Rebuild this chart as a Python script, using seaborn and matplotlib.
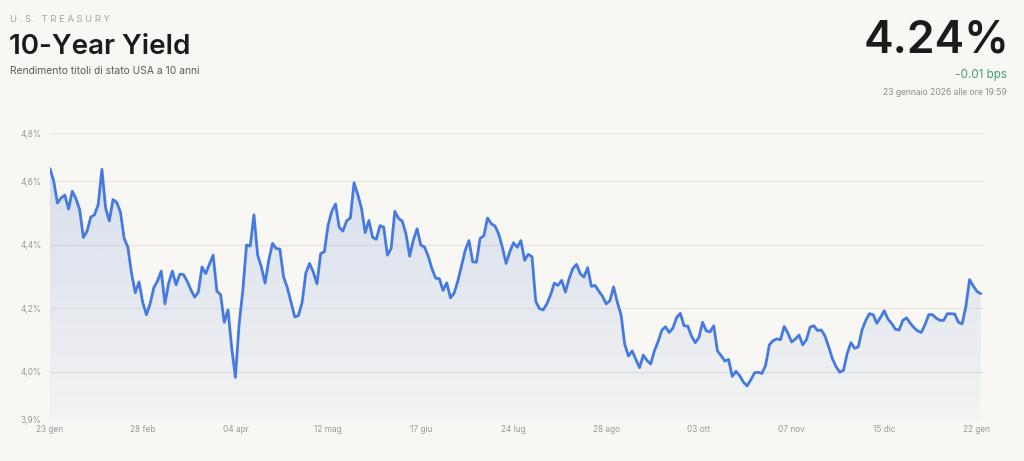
import numpy as np
import pandas as pd
import matplotlib
matplotlib.use("Agg")
import matplotlib.pyplot as plt
import seaborn as sns
from matplotlib.colors import to_rgba

# ---- data, one value per trading day ----
yields = [
    4.639, 4.600, 4.531, 4.547, 4.556, 4.512, 4.568, 4.545, 4.510, 4.423,
    4.443, 4.487, 4.494, 4.526, 4.637, 4.515, 4.475, 4.542, 4.533, 4.502,
    4.420, 4.392, 4.309, 4.249, 4.283, 4.219, 4.180, 4.214, 4.265, 4.286,
    4.317, 4.214, 4.279, 4.317, 4.274, 4.307, 4.306, 4.285, 4.258, 4.235,
    4.251, 4.330, 4.309, 4.339, 4.367, 4.254, 4.243, 4.156, 4.195, 4.076,
    3.983, 4.150, 4.256, 4.399, 4.396, 4.494, 4.367, 4.330, 4.279, 4.351,
    4.404, 4.388, 4.386, 4.298, 4.265, 4.219, 4.173, 4.177, 4.219, 4.311,
    4.341, 4.314, 4.277, 4.372, 4.378, 4.462, 4.505, 4.528, 4.455, 4.443,
    4.475, 4.484, 4.595, 4.558, 4.515, 4.438, 4.476, 4.423, 4.417, 4.460,
    4.455, 4.367, 4.388, 4.505, 4.483, 4.474, 4.434, 4.364, 4.415, 4.450,
    4.399, 4.393, 4.364, 4.325, 4.295, 4.293, 4.256, 4.280, 4.233, 4.248,
    4.286, 4.335, 4.383, 4.413, 4.346, 4.345, 4.420, 4.428, 4.484, 4.466,
    4.459, 4.434, 4.392, 4.341, 4.378, 4.406, 4.392, 4.413, 4.351, 4.370,
    4.362, 4.222, 4.199, 4.195, 4.214, 4.242, 4.279, 4.272, 4.288, 4.251,
    4.293, 4.325, 4.338, 4.309, 4.298, 4.328, 4.269, 4.272, 4.254, 4.238,
    4.214, 4.224, 4.267, 4.219, 4.180, 4.087, 4.050, 4.066, 4.039, 4.013,
    4.053, 4.036, 4.025, 4.066, 4.095, 4.131, 4.142, 4.124, 4.138, 4.171,
    4.184, 4.145, 4.144, 4.113, 4.092, 4.108, 4.156, 4.129, 4.126, 4.145,
    4.066, 4.051, 4.034, 4.039, 3.986, 4.002, 3.988, 3.968, 3.956, 3.975,
    3.997, 3.999, 3.995, 4.021, 4.085, 4.098, 4.104, 4.101, 4.143, 4.122,
    4.094, 4.103, 4.116, 4.085, 4.101, 4.141, 4.145, 4.130, 4.132, 4.113,
    4.079, 4.042, 4.016, 3.999, 4.005, 4.058, 4.092, 4.074, 4.079, 4.132,
    4.162, 4.183, 4.180, 4.153, 4.172, 4.192, 4.166, 4.152, 4.134, 4.132,
    4.162, 4.170, 4.153, 4.139, 4.129, 4.124, 4.149, 4.180, 4.180, 4.169,
    4.162, 4.162, 4.183, 4.183, 4.182, 4.156, 4.151, 4.206, 4.290, 4.270,
    4.253, 4.246,
]
x_tick_labels = ["23 gen", "28 feb", "04 apr", "12 mag", "17 giu", "24 lug",
                 "28 ago", "03 ott", "07 nov", "15 dic", "22 gen"]
x_tick_step = 25
y_ticks = [3.85, 4.0, 4.2, 4.4, 4.6, 4.75]
y_tick_labels = ["3,9%", "4,0%", "4,2%", "4,4%", "4,6%", "4,8%"]
y_range = (3.85, 4.75)

header_kicker = "U.S. TREASURY"
header_title = "10-Year Yield"
header_subtitle = "Rendimento titoli di stato USA a 10 anni"
last_value = "4.24%"
last_change = "-0.01 bps"
last_time = "23 gennaio 2026 alle ore 19:59"

# ---- style ----
BG = "#f8f7f3"
LINE = "#447ae2"
GRID = "#e6e4df"
TICK = "#9b9a96"

sns.set_theme(style="white")
plt.rcParams["font.family"] = ["Inter", "DejaVu Sans"]

W, H = 1024, 461
fig = plt.figure(figsize=(W / 100, H / 100), dpi=100, facecolor=BG)
ax_left, ax_right, ax_top, ax_bottom = 50, 984.4, 133.4, 419.6
ax = fig.add_axes([ax_left / W, 1 - ax_bottom / H,
                   (ax_right - ax_left) / W, (ax_bottom - ax_top) / H])
ax.set_facecolor(BG)

df = pd.DataFrame({"idx": np.arange(len(yields)), "yield": yields})

# gradient area under the line
poly = ax.fill_between(df["idx"], df["yield"], y_range[0],
                       facecolor="none", edgecolor="none")
n = 256
t = np.linspace(0, 1, n)[:, None]
c = np.array(to_rgba("#5b82d9"))
img = np.zeros((n, 1, 4))
img[..., :3] = c[:3]
img[..., 3] = 0.21 * (1 - t) + 0.035 * t
top_val = max(yields)
im = ax.imshow(img, extent=[0, len(yields) - 1, y_range[0], top_val],
               origin="upper", aspect="auto", zorder=2, interpolation="bilinear")
im.set_clip_path(poly.get_paths()[0], transform=ax.transData)

sns.lineplot(data=df, x="idx", y="yield", ax=ax, color=LINE,
             linewidth=2.0, zorder=3)

ax.set_xlim(0, len(yields))
ax.set_ylim(*y_range)
ax.set_xticks(np.arange(len(x_tick_labels)) * x_tick_step)
ax.set_xticklabels(x_tick_labels)
ax.set_yticks(y_ticks)
ax.set_yticklabels(y_tick_labels)
ax.set_xlabel("")
ax.set_ylabel("")
ax.tick_params(axis="both", length=0, labelsize=6, colors=TICK)
ax.tick_params(axis="y", pad=6)
ax.tick_params(axis="x", pad=4)
ax.yaxis.grid(True, color=GRID, linewidth=0.8, zorder=1)
ax.xaxis.grid(False)
ax.set_axisbelow(True)
for s in ax.spines.values():
    s.set_visible(False)

def px(x, y):
    return x / W, 1 - y / H

fig.text(*px(10, 22.5), "  ".join(" ".join(w) for w in header_kicker.split(" ")),
         fontsize=6.8, color="#a3a29e", va="baseline", ha="left")
fig.text(*px(9, 54.5), header_title, fontsize=20, fontweight="semibold",
         color="#1b1b1b", va="baseline", ha="left")
fig.text(*px(10, 74), header_subtitle, fontsize=7.4, color="#5a5a58",
         va="baseline", ha="left")
fig.text(*px(1009, 52.5), last_value, fontsize=32, fontweight="semibold",
         color="#1b1b1b", va="baseline", ha="right")
fig.text(*px(1007, 78), last_change, fontsize=8.4, color="#3d9f73",
         va="baseline", ha="right")
fig.text(*px(1007, 95), last_time, fontsize=6.2, color="#8f8e8a",
         va="baseline", ha="right")

fig.savefig("out.png", dpi=100, facecolor=BG)
